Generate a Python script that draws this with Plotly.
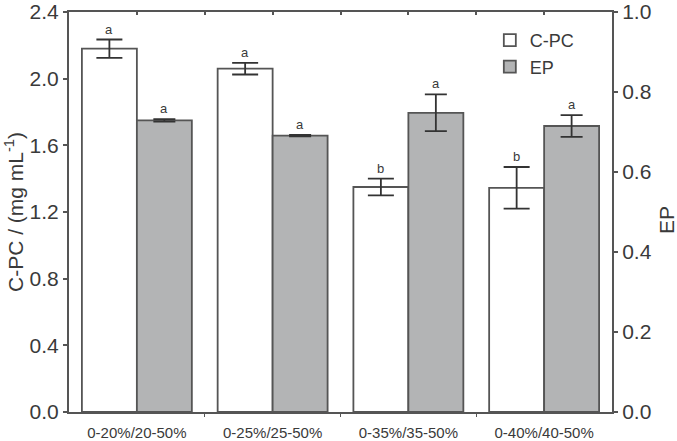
import plotly.graph_objects as go

categories = ["0-20%/20-50%", "0-25%/25-50%", "0-35%/35-50%", "0-40%/40-50%"]
cpc_values = [2.18, 2.06, 1.35, 1.345]
cpc_errors = [0.055, 0.035, 0.05, 0.125]
ep_values = [0.729, 0.691, 0.748, 0.715]
ep_errors = [0.003, 0.002, 0.046, 0.027]
cpc_letters = ["a", "a", "b", "b"]
ep_letters = ["a", "a", "a", "a"]

xpos = list(range(len(categories)))
TXT = "#3a3a3a"
LINE = "#555555"
FONT = "Liberation Sans, Arial, sans-serif"
BW = 0.405

fig = go.Figure()
fig.add_trace(go.Bar(
    x=xpos, y=cpc_values, name="C-PC", yaxis="y", width=BW, offset=-BW,
    marker=dict(color="white", line=dict(color=LINE, width=1.8)),
    error_y=dict(type="data", array=cpc_errors, visible=True, color="#333333",
                 thickness=1.8, width=13),
))
fig.add_trace(go.Bar(
    x=xpos, y=ep_values, name="EP", yaxis="y2", width=BW, offset=0,
    marker=dict(color="#b3b4b5", line=dict(color=LINE, width=1.8)),
    error_y=dict(type="data", array=ep_errors, visible=True, color="#333333",
                 thickness=1.8, width=11),
))

annotations = []
for i in xpos:
    annotations.append(dict(x=i - BW / 2, y=cpc_values[i] + cpc_errors[i], xref="x", yref="y",
                            text=cpc_letters[i], showarrow=False, yanchor="bottom", yshift=1,
                            font=dict(size=13, color=TXT, family=FONT)))
    annotations.append(dict(x=i + BW / 2, y=ep_values[i] + ep_errors[i], xref="x", yref="y2",
                            text=ep_letters[i], showarrow=False, yanchor="bottom", yshift=1,
                            font=dict(size=13, color=TXT, family=FONT)))
annotations.append(dict(x=1.0, y=0.48, xref="paper", yref="paper", text="EP",
                        showarrow=False, textangle=-90, xanchor="center", yanchor="middle",
                        xshift=54,
                        font=dict(size=21, color=TXT, family=FONT)))
half_ticks = [i / 2 for i in range(0, 2 * len(categories) - 1)]

fig.update_layout(
    width=677, height=441,
    margin=dict(l=69, r=65, t=12, b=29, autoexpand=False),
    paper_bgcolor="white", plot_bgcolor="white",
    font=dict(family=FONT, color=TXT),
    showlegend=True,
    legend=dict(x=0.775, y=0.975, xanchor="left", yanchor="top",
                bgcolor="rgba(0,0,0,0)", font=dict(size=18, color=TXT, family=FONT),
                tracegroupgap=0),
    xaxis=dict(range=[-0.5, len(categories) - 0.5], tickmode="array", tickvals=xpos,
               ticktext=categories, ticks="", showline=True, linecolor=LINE, linewidth=2,
               tickfont=dict(size=15, color=TXT), showgrid=False, zeroline=False,
               automargin=False, ticklabelstandoff=6,
               minor=dict(tickvals=[0.5, 1.5, 2.5], ticks="outside", ticklen=3,
                          tickcolor=LINE, tickwidth=1)),
    xaxis2=dict(range=[-0.5, len(categories) - 0.5], overlaying="x", side="top", anchor="y",
                tickmode="array", tickvals=half_ticks, ticks="inside", ticklen=3,
                tickcolor=LINE, tickwidth=1.5, showticklabels=False, showline=True,
                linecolor=LINE, linewidth=2, showgrid=False, zeroline=False,
                automargin=False),
    yaxis=dict(range=[0, 2.4], tickmode="array", tickvals=[0, 0.4, 0.8, 1.2, 1.6, 2.0, 2.4],
               tickformat=".1f", ticks="outside", ticklen=4, tickcolor=LINE, tickwidth=1.5,
               showline=True, linecolor=LINE, linewidth=2, showgrid=False, zeroline=False,
               tickfont=dict(size=21, color=TXT), automargin=False,
               title=dict(text="C-PC / (mg mL<sup>-1</sup>)", font=dict(size=21, color=TXT),
                          standoff=0)),
    yaxis2=dict(range=[0, 1.0], overlaying="y", side="right", anchor="x",
                tickmode="array", tickvals=[0, 0.2, 0.4, 0.6, 0.8, 1.0], tickformat=".1f",
                ticks="outside", ticklen=4, tickcolor=LINE, tickwidth=1.5,
                showline=True, linecolor=LINE, linewidth=2, showgrid=False, zeroline=False,
                tickfont=dict(size=21, color=TXT), automargin=False),
    annotations=annotations,
)
fig.add_trace(go.Scatter(x=[None], y=[None], xaxis="x2", yaxis="y", showlegend=False,
                         hoverinfo="skip"))
fig.write_html("out.html")
